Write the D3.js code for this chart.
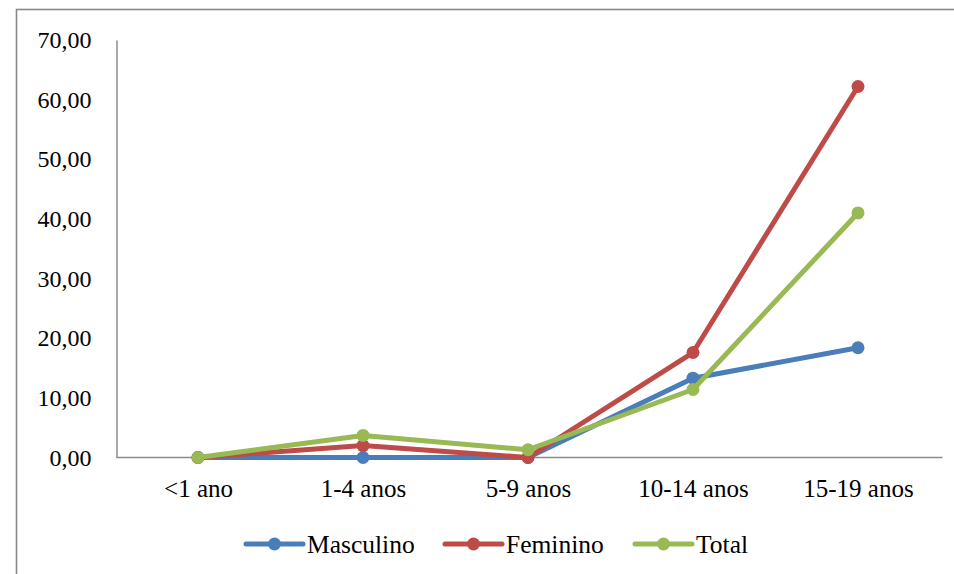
<!DOCTYPE html>
<html><head><meta charset="utf-8">
<script src="https://cdn.jsdelivr.net/npm/d3@7"></script>
<style>body{margin:0;background:#fff}svg{display:block}</style>
</head><body>
<svg id="c" width="954" height="574"></svg>
<script>
const categories = ["<1 ano", "1-4 anos", "5-9 anos", "10-14 anos", "15-19 anos"];
const masculino = [0.0, 0.0, 0.0, 13.3, 18.4];
const feminino = [0.0, 2.0, 0.0, 17.6, 62.2];
const total = [0.0, 3.7, 1.3, 11.4, 41.0];
const yTicks = [0, 10, 20, 30, 40, 50, 60, 70];
const seriesNames = ["Masculino", "Feminino", "Total"];
const colors = ["#4A7EBB", "#BE4B48", "#98B954"];
const series = [masculino, feminino, total];

const svg = d3.select("#c");
const font = '"Liberation Serif"';

// outer chart border
svg.append("rect").attr("x", 16.5).attr("y", 9.5).attr("width", 1000).attr("height", 600)
  .attr("fill", "none").attr("stroke", "#898989").attr("stroke-width", 1.6);

const x = d3.scalePoint().domain(categories).range([198, 858]);
const y = d3.scaleLinear().domain([0, 70]).range([457.5, 40]);
const left = 116.5, right = 942.5;

// y-axis
const yAxis = d3.axisLeft(y).tickValues(yTicks).tickSize(0).tickPadding(25)
  .tickFormat(d => d3.format(".2f")(d).replace(".", ","));
const gy = svg.append("g").attr("transform", `translate(${left},0)`).call(yAxis);
gy.select(".domain").attr("stroke", "#8c8c8c").attr("stroke-width", 1.5);
gy.selectAll("text").style("font-family", font).style("font-size", "24px").attr("fill", "#000");

// x-axis
const gx = svg.append("g").attr("transform", `translate(0,${y(0)})`);
gx.append("line").attr("x1", left).attr("x2", right).attr("stroke", "#8c8c8c").attr("stroke-width", 1.5);
const xAxis = d3.axisBottom(x).tickSize(0).tickPadding(22);
const gx2 = svg.append("g").attr("transform", `translate(0,${y(0)})`).call(xAxis);
gx2.select(".domain").remove();
gx2.selectAll("text").style("font-family", font).style("font-size", "25px").attr("fill", "#000");

// lines
const line = d3.line().x((d, i) => x(categories[i])).y(d => y(d));
series.forEach((s, k) => {
  svg.append("path").datum(s).attr("d", line).attr("fill", "none")
    .attr("stroke", colors[k]).attr("stroke-width", 5).attr("stroke-linejoin", "round");
  svg.append("g").selectAll("circle").data(s).join("circle")
    .attr("cx", (d, i) => x(categories[i])).attr("cy", d => y(d)).attr("r", 6.5)
    .attr("fill", colors[k]);
});

// legend
const legX = [246, 445, 635];
const lg = svg.append("g");
seriesNames.forEach((n, k) => {
  const g = lg.append("g").attr("transform", `translate(${legX[k]},544)`);
  g.append("line").attr("x1", 0).attr("x2", 57).attr("stroke", colors[k]).attr("stroke-width", 5).attr("stroke-linecap", "round");
  g.append("circle").attr("cx", 28.5).attr("r", 6.5).attr("fill", colors[k]);
  g.append("text").attr("x", 61).attr("dy", "0.35em")
    .style("font-family", font).style("font-size", "25.5px")
    .attr("fill", "#000").text(n);
});
</script>
</body></html>
